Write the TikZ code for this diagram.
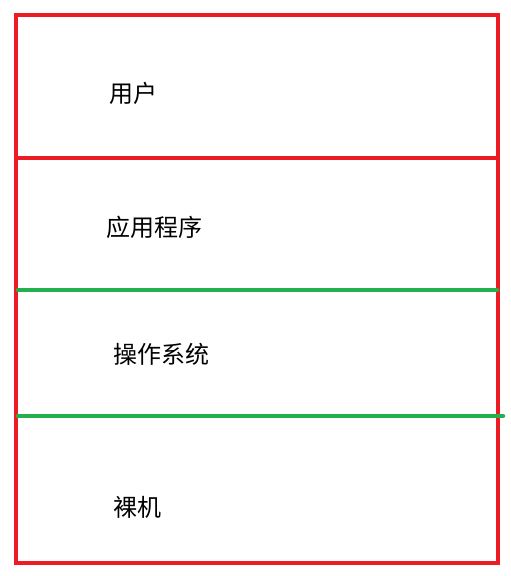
\documentclass[tikz,border=0pt]{standalone}
\usepackage{fontspec}
\newfontfamily\cjk{Noto Sans CJK SC}
\definecolor{boxred}{RGB}{237,28,36}
\definecolor{layergreen}{RGB}{34,177,76}
\tikzset{
    layertext/.style={anchor=west, inner sep=0pt, font=\cjk\fontsize{24}{28}\selectfont}
}

\begin{document}
\begin{tikzpicture}[x=1pt, y=-1pt]

    \useasboundingbox (0, 0) rectangle (511, 576);

    \draw[boxred, line width=4pt] (16, 15) rectangle (498, 563);
    \coordinate (r1) at (16, 158);
    \coordinate (r2) at (498, 158);
    \draw[boxred, line width=4pt] (r1) -- (r2);

    \coordinate (g1) at (18, 290);
    \coordinate (g2) at (497, 290);
    \coordinate (g3) at (18, 416);
    \coordinate (g4) at (503, 416);
    \draw[layergreen, line width=4.5pt, line cap=round] (g1) -- (g2);
    \draw[layergreen, line width=4.5pt, line cap=round] (g3) -- (g4);

    \node[layertext] (user) at (109, 93) {用户};
    \node[layertext] (app) at (106, 227) {应用程序};
    \node[layertext] (os) at (113, 354) {操作系统};
    \node[layertext] (bare) at (113, 507) {裸机};
    \end{tikzpicture}
\end{document}
